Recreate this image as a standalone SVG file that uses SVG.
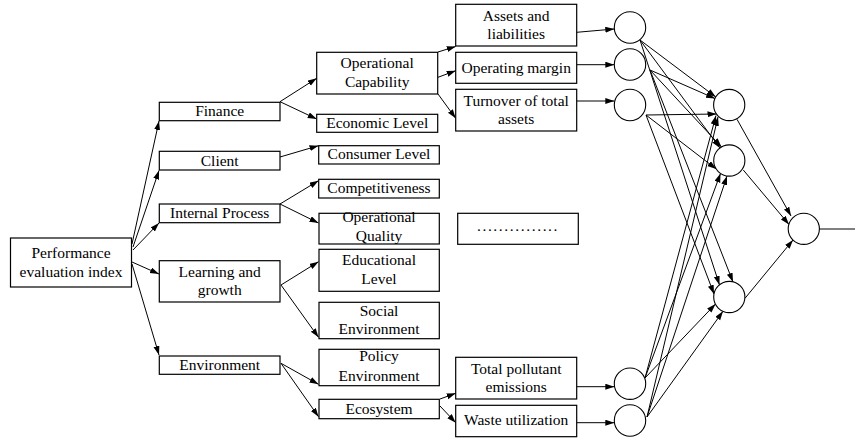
<svg xmlns="http://www.w3.org/2000/svg" width="855" height="441" viewBox="0 0 855 441">
<style>
.b{fill:#fff;stroke:#000;stroke-width:1.2}
.c{fill:#fff;stroke:#000;stroke-width:1.1}
text{font-family:'Liberation Serif',serif;font-size:15.5px;fill:#000;text-anchor:middle}
.l{fill:none;stroke:#000;stroke-width:1;marker-end:url(#a)}
.p{fill:none;stroke:#000;stroke-width:1}
</style>
<defs>
<marker id="a" markerUnits="userSpaceOnUse" markerWidth="10" markerHeight="7" refX="9" refY="3" orient="auto">
<path d="M0,0 L9,3 L0,6 z" fill="#000"/>
</marker>
</defs>
<rect width="855" height="441" fill="#fff"/>
<g id="connectors">
<line class="l" x1="132" y1="244" x2="159" y2="121"/>
<line class="l" x1="133" y1="247" x2="159" y2="170.5"/>
<line class="l" x1="133" y1="250" x2="159" y2="223"/>
<line class="l" x1="132" y1="262" x2="159" y2="274"/>
<line class="l" x1="132" y1="264" x2="159" y2="355"/>
<line class="l" x1="280" y1="101.7" x2="316.7" y2="78.3"/>
<line class="l" x1="280" y1="101.7" x2="316.7" y2="119"/>
<line class="l" x1="280" y1="157" x2="318.5" y2="145.7"/>
<line class="l" x1="280" y1="204" x2="318.5" y2="180.7"/>
<line class="l" x1="280" y1="204" x2="318.5" y2="223"/>
<line class="l" x1="281" y1="285" x2="318.5" y2="261.7"/>
<line class="l" x1="281" y1="285" x2="318.5" y2="337.3"/>
<line class="l" x1="281" y1="363.3" x2="318.5" y2="384.3"/>
<line class="l" x1="281" y1="363.3" x2="318.5" y2="416.7"/>
<line class="l" x1="438" y1="52" x2="455.7" y2="46.5"/>
<line class="l" x1="438" y1="77.3" x2="455.7" y2="70.7"/>
<line class="l" x1="438" y1="94" x2="455.7" y2="118.3"/>
<line class="l" x1="440" y1="399" x2="455.7" y2="393.3"/>
<line class="l" x1="440" y1="406" x2="455.7" y2="422.7"/>
<line class="l" x1="576.7" y1="32.3" x2="614.3" y2="29"/>
<line class="l" x1="576.7" y1="64.7" x2="614.3" y2="64.7"/>
<line class="l" x1="576.7" y1="101" x2="614.3" y2="101"/>
<line class="l" x1="576.7" y1="386.7" x2="614.3" y2="386.7"/>
<line class="l" x1="576.7" y1="422.7" x2="614.3" y2="422.7"/>
<line class="l" x1="640" y1="40" x2="715.8" y2="97"/>
<line class="l" x1="650" y1="70" x2="715" y2="98.5"/>
<line class="l" x1="646" y1="115" x2="716.5" y2="114"/>
<line class="l" x1="645" y1="378" x2="716" y2="115.5"/>
<line class="l" x1="647" y1="417" x2="718" y2="117"/>
<line class="l" x1="640" y1="40" x2="720" y2="148"/>
<line class="l" x1="650" y1="70" x2="721.5" y2="147"/>
<line class="l" x1="646" y1="115" x2="716.2" y2="169"/>
<line class="l" x1="645" y1="378" x2="720.5" y2="173.5"/>
<line class="l" x1="647" y1="417" x2="727" y2="176"/>
<line class="l" x1="640" y1="40" x2="719.5" y2="285"/>
<line class="l" x1="650" y1="70" x2="733" y2="282"/>
<line class="l" x1="646" y1="115" x2="714" y2="294"/>
<line class="l" x1="645" y1="378" x2="715.5" y2="304"/>
<line class="l" x1="647" y1="417" x2="723" y2="311.3"/>
<line class="l" x1="737" y1="119.3" x2="791" y2="216"/>
<line class="l" x1="743.3" y1="170" x2="789" y2="224.5"/>
<line class="l" x1="745" y1="298.3" x2="793" y2="240"/>
<line class="p" x1="819.3" y1="229" x2="855" y2="229"/>
</g>
<g id="n-root"><rect class="b" x="10.5" y="238" width="121" height="49"/><text x="71" y="257.5">Performance</text><text x="71" y="276.5">evaluation index</text></g>
<g id="n-finance"><rect class="b" x="159.3" y="102.3" width="120.7" height="18.4"/><text x="219.7" y="116.2">Finance</text></g>
<g id="n-client"><rect class="b" x="159.3" y="151.3" width="120.7" height="18.7"/><text x="219.7" y="165.5">Client</text></g>
<g id="n-internal"><rect class="b" x="159.3" y="204" width="120.7" height="18.7"/><text x="219.7" y="217.8">Internal Process</text></g>
<g id="n-learning"><rect class="b" x="159.3" y="260.7" width="120.7" height="41.3"/><text x="219.7" y="276.7">Learning and</text><text x="219.7" y="295">growth</text></g>
<g id="n-environment"><rect class="b" x="159.3" y="356" width="120.7" height="18.3"/><text x="219.7" y="369.5">Environment</text></g>
<g id="n-opcap"><rect class="b" x="316.7" y="52.3" width="121" height="41.7"/><text x="377.2" y="68.3">Operational</text><text x="377.2" y="86.5">Capability</text></g>
<g id="n-econ"><rect class="b" x="316.7" y="114.3" width="121" height="18"/><text x="377.2" y="127.7">Economic Level</text></g>
<g id="n-consumer"><rect class="b" x="318.7" y="145.7" width="120.6" height="18.3"/><text x="379" y="159.2">Consumer Level</text></g>
<g id="n-compet"><rect class="b" x="318.7" y="179.3" width="120.6" height="18.7"/><text x="379" y="193.3">Competitiveness</text></g>
<g id="n-opqual"><rect class="b" x="319" y="213.3" width="120.3" height="30.7"/><text x="379" y="222">Operational</text><text x="379" y="240.5">Quality</text></g>
<g id="n-edu"><rect class="b" x="319" y="249.3" width="120.3" height="42"/><text x="379" y="265">Educational</text><text x="379" y="284">Level</text></g>
<g id="n-social"><rect class="b" x="319" y="302.3" width="120.3" height="36.4"/><text x="379" y="315.7">Social</text><text x="379" y="334.3">Environment</text></g>
<g id="n-policy"><rect class="b" x="319" y="349.3" width="120.3" height="36.4"/><text x="379" y="361">Policy</text><text x="379" y="380.5">Environment</text></g>
<g id="n-eco"><rect class="b" x="319" y="399.3" width="120.3" height="19.4"/><text x="379" y="413.5">Ecosystem</text></g>
<g id="n-assets"><rect class="b" x="455.7" y="4.3" width="121" height="41.7"/><text x="516.2" y="20.7">Assets and</text><text x="516.2" y="39.3">liabilities</text></g>
<g id="n-margin"><rect class="b" x="455.7" y="52.3" width="121" height="31"/><text x="516.2" y="72.7">Operating margin</text></g>
<g id="n-turnover"><rect class="b" x="455.7" y="89.3" width="121" height="41.7"/><text x="516.2" y="106">Turnover of total</text><text x="516.2" y="124">assets</text></g>
<g id="n-dots"><rect class="b" x="457.7" y="213.3" width="120.6" height="31"/><text x="518" y="230.5" letter-spacing="1.6">...............</text></g>
<g id="n-pollutant"><rect class="b" x="455.7" y="357.3" width="121" height="41.7"/><text x="516.2" y="374">Total pollutant</text><text x="516.2" y="392">emissions</text></g>
<g id="n-waste"><rect class="b" x="455.7" y="405.3" width="121" height="31.4"/><text x="516.2" y="425.3">Waste utilization</text></g>
<g id="n-in1"><circle class="c" cx="630" cy="27.5" r="15.7"/></g>
<g id="n-in2"><circle class="c" cx="630" cy="64.5" r="15.7"/></g>
<g id="n-in3"><circle class="c" cx="630" cy="105" r="15.7"/></g>
<g id="n-in4"><circle class="c" cx="630" cy="383.7" r="15.7"/></g>
<g id="n-in5"><circle class="c" cx="630" cy="420.5" r="15.7"/></g>
<g id="n-h1"><circle class="c" cx="729.2" cy="105" r="15.6"/></g>
<g id="n-h2"><circle class="c" cx="729.3" cy="160.5" r="15.6"/></g>
<g id="n-h3"><circle class="c" cx="729.3" cy="297" r="15.6"/></g>
<g id="n-out"><circle class="c" cx="803.8" cy="228.8" r="15.6"/></g>
</svg>
